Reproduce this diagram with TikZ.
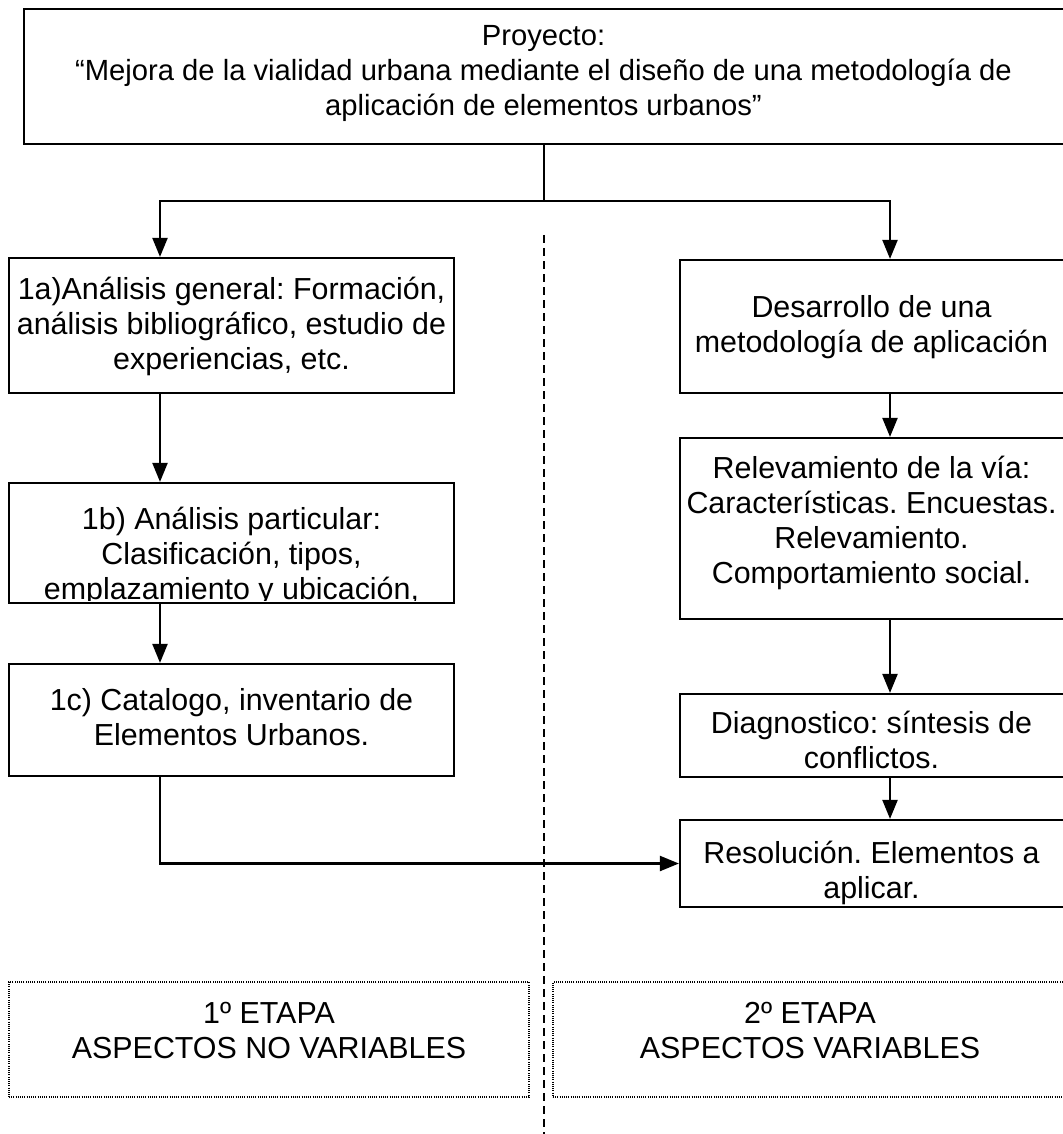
\documentclass[tikz,border=0pt]{standalone}
\usepackage{fontspec}
\setmainfont{Liberation Sans}
\usetikzlibrary{arrows.meta}
\frenchspacing

\begin{document}
\begin{tikzpicture}[x=0.5pt,y=-0.5pt]
  \tikzstyle{box}=[draw,line width=1.1pt,inner sep=0pt]
  \tikzstyle{etapa}=[draw,line width=0.6pt,dash pattern=on 0.5pt off 0.6pt,inner sep=0pt]
  \tikzstyle{txt}=[align=center,inner sep=0pt,font=\fontsize{15.2pt}{17.5pt}\selectfont]
  \tikzstyle{link}=[line width=1.1pt]
  \tikzstyle{arr}=[link,-{Triangle[length=9.5pt,width=7.5pt]}]
  \useasboundingbox (0,0) rectangle (1063,1134);
  % top box
  \node[box,minimum width=520pt,minimum height=67.5pt] (proy) at (544,76.5) {};
  \node[txt,font=\fontsize{14.6pt}{17.5pt}\selectfont] (proytxt) at (543.5,73) {Proyecto:\\“Mejora de la vialidad urbana mediante el diseño de una metodología de\\aplicación de elementos urbanos”};
  % first stage column
  \node[box,minimum width=222.5pt,minimum height=67.5pt] (an1a) at (231.5,325.5) {};
  \node[txt] (an1atxt) at (231.5,326) {1a)Análisis general: Formación,\\análisis bibliográfico, estudio de\\experiencias, etc.};
  \node[box,minimum width=222.5pt,minimum height=60pt] (an1b) at (231.5,543) {};
  \begin{scope}
    \clip (an1b.north west) rectangle ([yshift=2pt]an1b.south east);
    \node[txt] (an1btxt) at (231.5,556) {1b) Análisis particular:\\Clasificación, tipos,\\emplazamiento y ubicación,};
  \end{scope}
  \node[box,minimum width=222.5pt,minimum height=56pt] (an1c) at (231.5,720) {};
  \node[txt] (an1ctxt) at (231.5,717.5) {1c) Catalogo, inventario de\\Elementos Urbanos.};
  % second stage column
  \node[box,minimum width=192.5pt,minimum height=66.5pt] (desa) at (872.5,326.5) {};
  \node[txt] (desatxt) at (871.5,327.5) {Desarrollo de una\\metodología de aplicación};
  \node[box,minimum width=192.5pt,minimum height=90.5pt] (relev) at (872.5,528.5) {};
  \node[txt] (relevtxt) at (871.5,523) {Relevamiento de la vía:\\Características. Encuestas.\\Relevamiento.\\Comportamiento social.};
  \node[box,minimum width=192.5pt,minimum height=41.5pt] (diag) at (872.5,735.5) {};
  \node[txt] (diagtxt) at (871.5,739.5) {Diagnostico: síntesis de\\conflictos.};
  \node[box,minimum width=192.5pt,minimum height=43.5pt] (resol) at (872.5,863.5) {};
  \node[txt] (resoltxt) at (871.5,872.5) {Resolución. Elementos a\\aplicar.};
  % stages
  \node[etapa,minimum width=260pt,minimum height=57.5pt] (etapa1) at (269,1039.5) {};
  \node[txt] (etapa1txt) at (269,1031) {1º ETAPA\\ASPECTOS NO VARIABLES};
  \node[etapa,minimum width=256pt,minimum height=57.5pt] (etapa2) at (809,1039.5) {};
  \node[txt] (etapa2txt) at (810,1031) {2º ETAPA\\ASPECTOS VARIABLES};
  % connectors
  \coordinate (split) at (544,201);
  \coordinate (lcol) at (160,0);
  \coordinate (rcol) at (890,0);
  \coordinate (dtop) at (544,235);
  \coordinate (dbot) at (544,1134);
  \draw[link] (proy.south) -- (split);
  \draw[arr] (split) -| (an1a.north -| lcol);
  \draw[arr] (split) -| (desa.north -| rcol);
  \draw[arr] (an1a.south -| lcol) -- (an1b.north -| lcol);
  \draw[arr] (an1b.south -| lcol) -- (an1c.north -| lcol);
  \draw[arr] (an1c.south -| lcol) |- (resol.west);
  \draw[arr] (desa.south -| rcol) -- (relev.north -| rcol);
  \draw[arr] (relev.south -| rcol) -- (diag.north -| rcol);
  \draw[arr] (diag.south -| rcol) -- (resol.north -| rcol);
  \draw[line width=0.7pt,dash pattern=on 4pt off 2.5pt] (dtop) -- (dbot);
\end{tikzpicture}
\end{document}
